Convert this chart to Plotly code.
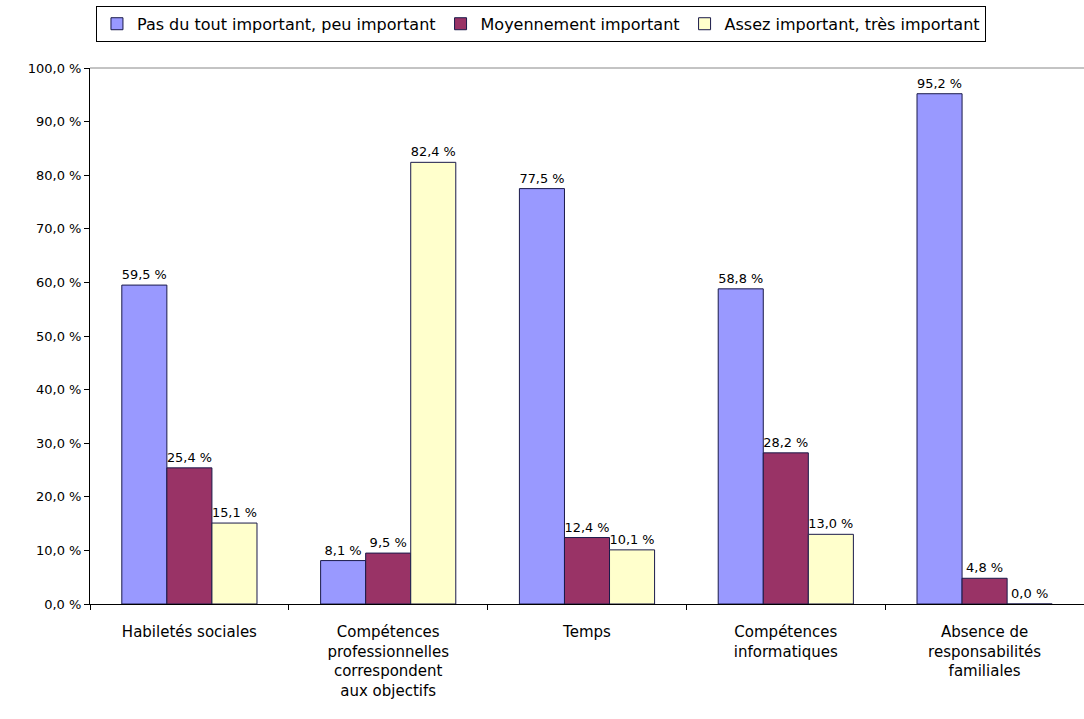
import plotly.graph_objects as go

categories = [
    "Habiletés sociales",
    "Compétences<br>professionnelles<br>correspondent<br>aux objectifs",
    "Temps",
    "Compétences<br>informatiques",
    "Absence de<br>responsabilités<br>familiales",
]
series_names = [
    "Pas du tout important, peu important",
    "Moyennement important",
    "Assez important, très important",
]
pas_important = [59.5, 8.1, 77.5, 58.8, 95.2]
moyen_important = [25.4, 9.5, 12.4, 28.2, 4.8]
assez_important = [15.1, 82.4, 10.1, 13.0, 0.0]
colors = ["#9999FF", "#993366", "#FFFFCC"]
tick_vals = [0, 10, 20, 30, 40, 50, 60, 70, 80, 90, 100]


def fmt(v):
    return f"{v:.1f}".replace(".", ",") + " %"


FONT = "DejaVu Sans, Arial"

fig = go.Figure()
for name, vals, col in zip(series_names, [pas_important, moyen_important, assez_important], colors):
    fig.add_trace(go.Bar(
        x=categories, y=vals, name=name,
        marker=dict(color=col, line=dict(color="#1a1a4a", width=1)),
        text=[fmt(v) for v in vals],
        textposition="outside",
        textfont=dict(family=FONT, size=13, color="black"),
        cliponaxis=False,
    ))

fig.update_layout(
    width=1084, height=719,
    margin=dict(l=90, r=0, t=68, b=115),
    paper_bgcolor="white", plot_bgcolor="white",
    barmode="group", bargap=0.32, bargroupgap=0,
    font=dict(family=FONT, size=13, color="black"),
    legend=dict(
        orientation="h", x=0.006, xanchor="left", y=1.116, yanchor="top",
        bordercolor="black", borderwidth=1, bgcolor="white",
        font=dict(family=FONT, size=16), itemwidth=30, traceorder="normal",
    ),
    xaxis=dict(
        range=[-0.5, 4.5], showline=True, linecolor="black", linewidth=1,
        ticks="outside", tickson="boundaries", ticklen=5, tickcolor="black",
        tickfont=dict(family=FONT, size=15), showgrid=False,
        ticklabelstandoff=14,
    ),
    yaxis=dict(
        range=[0, 100], tickvals=tick_vals, ticktext=[fmt(v) for v in tick_vals],
        showline=True, linecolor="black", linewidth=1,
        ticks="outside", ticklen=5, tickcolor="black", showgrid=False,
        zeroline=False, tickfont=dict(family=FONT, size=13),
    ),
    shapes=[dict(type="line", xref="paper", yref="paper", x0=0, x1=1, y0=1, y1=1,
                 line=dict(color="#888888", width=1))],
)

fig.write_html("out.html")
